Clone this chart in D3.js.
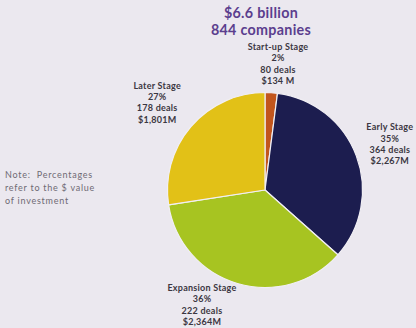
<!DOCTYPE html>
<html>
<head>
<meta charset="utf-8">
<script src="https://cdn.jsdelivr.net/npm/d3@7"></script>
<style>
  html, body { margin: 0; padding: 0; background: #ebe8ef; }
  svg { display: block; }
  .note { white-space: pre; }
</style>
</head>
<body>
<svg id="chart" width="416" height="328"></svg>
<script>
// Venture investment by company stage
const stages   = ["Start-up Stage", "Early Stage", "Expansion Stage", "Later Stage"];
const amounts  = [134, 2267, 2364, 1801];          // $M invested
const percents = ["2%", "35%", "36%", "27%"];
const deals    = [80, 364, 222, 178];
const amountLabels = ["$134 M", "$2,267M", "$2,364M", "$1,801M"];
const titleLines = ["$6.6 billion", "844 companies"];
const noteLines  = ["Note:  Percentages", "refer to the $ value", "of investment"];

const colors = d3.scaleOrdinal()
  .domain(stages)
  .range(["#c2561d", "#1c1d4f", "#a7c421", "#e2c117"]);

// label ring: radius and angular nudge (degrees) for each stage's text block
const labelPlacement = {
  "Start-up Stage":  { r: 127, shift: 2.2 },
  "Early Stage":     { r: 133, shift: 0.3 },
  "Expansion Stage": { r: 131, shift: 12.3 },
  "Later Stage":     { r: 139, shift: -1.5 }
};

const svg = d3.select("#chart");
const cx = 265, cy = 190, radius = 97.5;
const font = "Lato, 'Open Sans', sans-serif";

const rows = stages.map((s, i) => ({
  stage: s, amount: amounts[i], pct: percents[i], deals: deals[i], label: amountLabels[i]
}));

const pie = d3.pie().sort(null).value(d => d.amount);
const arc = d3.arc().innerRadius(0).outerRadius(radius);
const arcs = pie(rows);

const g = svg.append("g").attr("transform", `translate(${cx},${cy})`);

g.selectAll("path.slice")
  .data(arcs)
  .join("path")
  .attr("class", "slice")
  .attr("d", arc)
  .attr("fill", d => colors(d.data.stage))
  .attr("stroke", "#f1eff4")
  .attr("stroke-width", 1.2)
  .attr("stroke-linejoin", "round");

// stage labels, four lines each, centred on a point of the label ring
const lineGap = 11.3;
const labels = g.selectAll("text.stage")
  .data(arcs)
  .join("text")
  .attr("class", "stage")
  .attr("text-anchor", "middle")
  .attr("font-family", font)
  .attr("font-weight", 700)
  .attr("font-size", 9)
  .attr("letter-spacing", 0.25)
  .attr("fill", "#3b3742")
  .attr("transform", d => {
    const p = labelPlacement[d.data.stage];
    const a = (d.startAngle + d.endAngle) / 2 + p.shift * Math.PI / 180;
    const x = p.r * Math.sin(a);
    const y = -p.r * Math.cos(a) - 1.5 * lineGap + 3.3;
    return `translate(${x},${y})`;
  });

labels.each(function(d) {
  const lines = [d.data.stage, d.data.pct, `${d.data.deals} deals`, d.data.label];
  d3.select(this).selectAll("tspan")
    .data(lines)
    .join("tspan")
    .attr("x", 0)
    .attr("y", (_, i) => i * lineGap)
    .text(t => t);
});

// headline totals, one text block of two lines
svg.append("text")
  .attr("text-anchor", "middle")
  .attr("font-family", font)
  .attr("font-weight", 700)
  .attr("font-size", 14.3)
  .attr("letter-spacing", 0.3)
  .attr("fill", "#5b3e8e")
  .selectAll("tspan")
  .data(titleLines)
  .join("tspan")
  .attr("x", 261)
  .attr("y", (_, i) => 17.6 + i * 17.2)
  .text(t => t);

// footnote
svg.append("g")
  .selectAll("text")
  .data(noteLines)
  .join("text")
  .attr("class", "note")
  .attr("x", 5)
  .attr("y", (_, i) => 178 + i * 13)
  .attr("font-family", font)
  .attr("font-size", 9)
  .attr("letter-spacing", 0.75)
  .attr("fill", "#6f6a74")
  .text(t => t);
</script>
</body>
</html>
